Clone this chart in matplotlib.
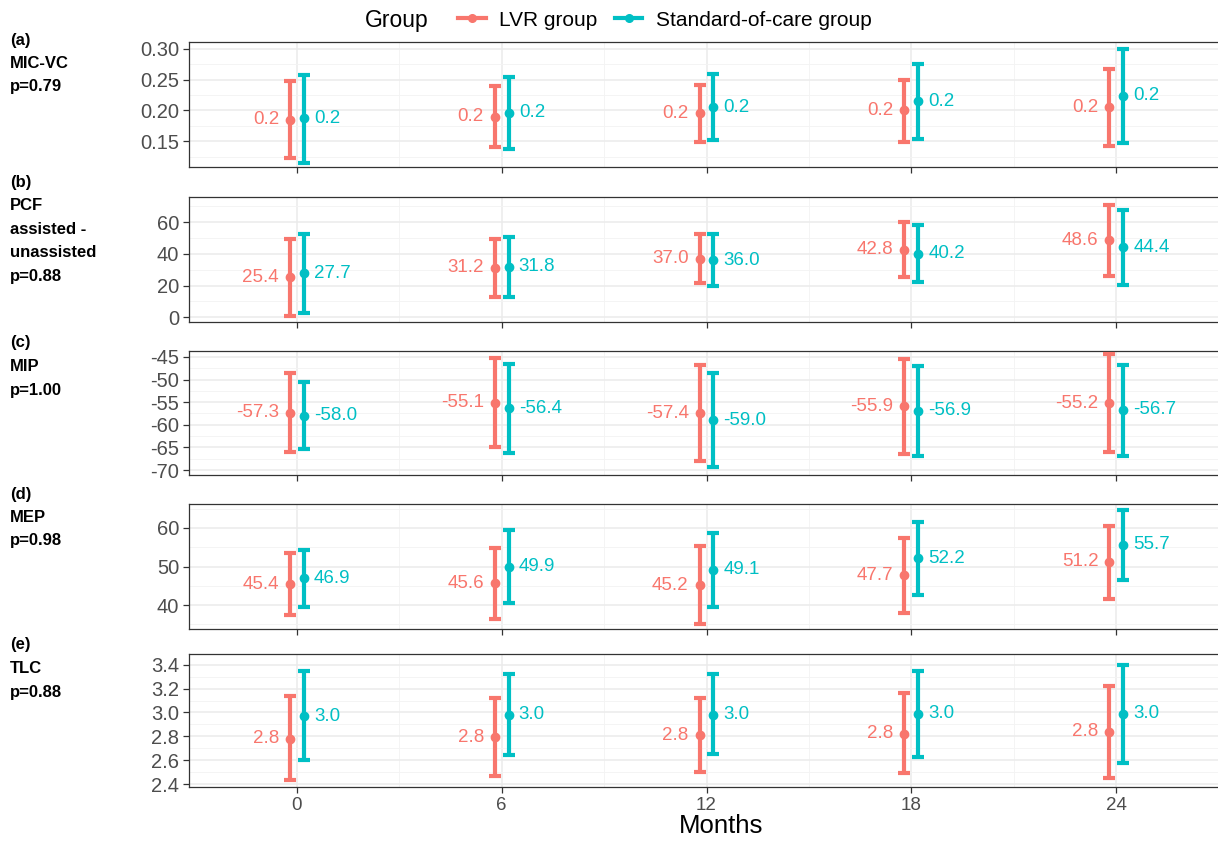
import numpy as np
import matplotlib
matplotlib.use("Agg")
import matplotlib.pyplot as plt
from matplotlib.lines import Line2D

plt.rcParams['font.family'] = ['Liberation Sans', 'DejaVu Sans']

months = [0, 6, 12, 18, 24]
groups = ['LVR group', 'Standard-of-care group']
colors = ['#F8766D', '#00BFC4']

# panel titles (left side)
panel_tags = ['(a)', '(b)', '(c)', '(d)', '(e)']
panel_names = ['MIC-VC', 'PCF\nassisted -\nunassisted', 'MIP', 'MEP', 'TLC']
panel_p = ['p=0.79', 'p=0.88', 'p=1.00', 'p=0.98', 'p=0.88']

# (a) MIC-VC
mic_lvr_mean = [0.185, 0.19, 0.195, 0.20, 0.205]
mic_lvr_lo = [0.123, 0.14, 0.149, 0.149, 0.142]
mic_lvr_hi = [0.247, 0.24, 0.241, 0.25, 0.267]
mic_soc_mean = [0.187, 0.196, 0.205, 0.215, 0.224]
mic_soc_lo = [0.115, 0.138, 0.152, 0.154, 0.147]
mic_soc_hi = [0.258, 0.254, 0.259, 0.276, 0.300]

# (b) PCF assisted - unassisted
pcf_lvr_mean = [25.4, 31.2, 37.0, 42.8, 48.6]
pcf_lvr_lo = [1.0, 13.0, 21.5, 25.5, 26.0]
pcf_lvr_hi = [49.5, 49.5, 52.5, 60.0, 71.0]
pcf_soc_mean = [27.7, 31.8, 36.0, 40.2, 44.4]
pcf_soc_lo = [3.0, 13.0, 19.5, 22.0, 20.5]
pcf_soc_hi = [52.5, 51.0, 52.5, 58.5, 68.0]

# (c) MIP
mip_lvr_mean = [-57.3, -55.1, -57.4, -55.9, -55.2]
mip_lvr_lo = [-66.0, -65.0, -68.0, -66.5, -66.0]
mip_lvr_hi = [-48.5, -45.2, -46.8, -45.5, -44.3]
mip_soc_mean = [-58.0, -56.4, -59.0, -56.9, -56.7]
mip_soc_lo = [-65.3, -66.3, -69.3, -66.8, -66.8]
mip_soc_hi = [-50.6, -46.5, -48.6, -47.0, -46.8]

# (d) MEP
mep_lvr_mean = [45.4, 45.6, 45.2, 47.7, 51.2]
mep_lvr_lo = [37.3, 36.4, 35.0, 38.0, 41.7]
mep_lvr_hi = [53.4, 54.9, 55.4, 57.4, 60.6]
mep_soc_mean = [46.9, 49.9, 49.1, 52.2, 55.7]
mep_soc_lo = [39.5, 40.5, 39.5, 42.7, 46.6]
mep_soc_hi = [54.3, 59.4, 58.7, 61.6, 64.7]

# (e) TLC
tlc_lvr_mean = [2.78, 2.79, 2.81, 2.82, 2.84]
tlc_lvr_lo = [2.43, 2.47, 2.50, 2.49, 2.45]
tlc_lvr_hi = [3.14, 3.12, 3.12, 3.16, 3.22]
tlc_soc_mean = [2.97, 2.98, 2.98, 2.99, 2.99]
tlc_soc_lo = [2.60, 2.64, 2.65, 2.63, 2.58]
tlc_soc_hi = [3.35, 3.32, 3.32, 3.35, 3.40]

panels = [
    ((mic_lvr_mean, mic_lvr_lo, mic_lvr_hi), (mic_soc_mean, mic_soc_lo, mic_soc_hi)),
    ((pcf_lvr_mean, pcf_lvr_lo, pcf_lvr_hi), (pcf_soc_mean, pcf_soc_lo, pcf_soc_hi)),
    ((mip_lvr_mean, mip_lvr_lo, mip_lvr_hi), (mip_soc_mean, mip_soc_lo, mip_soc_hi)),
    ((mep_lvr_mean, mep_lvr_lo, mep_lvr_hi), (mep_soc_mean, mep_soc_lo, mep_soc_hi)),
    ((tlc_lvr_mean, tlc_lvr_lo, tlc_lvr_hi), (tlc_soc_mean, tlc_soc_lo, tlc_soc_hi)),
]
yticks = [
    [0.15, 0.20, 0.25, 0.30],
    [0, 20, 40, 60],
    [-70, -65, -60, -55, -50, -45],
    [40, 50, 60],
    [2.4, 2.6, 2.8, 3.0, 3.2, 3.4],
]
ytick_fmt = ['{:.2f}', '{:.0f}', '{:.0f}', '{:.0f}', '{:.1f}']
ylims = [(0.108, 0.311), (-3.0, 76.0), (-71.1, -43.7), (33.8, 66.2), (2.375, 3.49)]
yminor = [
    [0.125, 0.175, 0.225, 0.275],
    [10, 30, 50, 70],
    [-67.5, -62.5, -57.5, -52.5, -47.5],
    [35, 45, 55, 65],
    [2.5, 2.7, 2.9, 3.1, 3.3],
]

W, H = 1218, 841
fig = plt.figure(figsize=(W / 100, H / 100), dpi=100)

# panel pixel boxes (top, bottom) and first line of the side titles
boxes = [(42, 167), (197, 322), (351, 475), (504, 629), (654, 787)]
title_y = [40, 182, 343, 494, 645]
left_px, right_px = 189, 1224
dodge = 0.2

for i, ((lvr, soc), (top, bot)) in enumerate(zip(panels, boxes)):
    ax = fig.add_axes([left_px / W, 1 - bot / H, (right_px - left_px) / W, (bot - top) / H])
    ax.set_xlim(-3.16, 27.16)
    ax.set_ylim(*ylims[i])
    ax.set_xticks(months)
    ax.set_xticks([3, 9, 15, 21], minor=True)
    ax.set_yticks(yticks[i])
    ax.set_yticks(yminor[i], minor=True)
    ax.set_yticklabels([ytick_fmt[i].format(v) for v in yticks[i]])
    ax.grid(True, which='major', color='#EBEBEB', linewidth=1.1, zorder=0)
    ax.grid(True, which='minor', color='#F3F3F3', linewidth=0.6, zorder=0)
    ax.set_axisbelow(True)
    for s in ax.spines.values():
        s.set_color('#333333')
        s.set_linewidth(0.9)
    ax.tick_params(axis='both', which='major', colors='#333333', labelcolor='#4D4D4D',
                   labelsize=14.5, length=4, width=0.9, pad=3)
    ax.tick_params(axis='both', which='minor', length=0)
    if i < 4:
        ax.tick_params(axis='x', labelbottom=False)
    else:
        ax.tick_params(axis='x', labelsize=13.5, pad=3)

    for g, (mean, lo, hi) in enumerate([lvr, soc]):
        x = np.array(months) + (-dodge if g == 0 else dodge)
        mean = np.array(mean)
        err = [mean - np.array(lo), np.array(hi) - mean]
        ax.errorbar(x, mean, yerr=err, fmt='o', color=colors[g], markersize=6,
                    elinewidth=3, capsize=4.5, capthick=3, zorder=3)
        for xi, m in zip(x, mean):
            label = '{:.1f}'.format(m)
            if g == 0:
                ax.text(xi - 0.32, m, label, color=colors[g], fontsize=13.5,
                        ha='right', va='center')
            else:
                ax.text(xi + 0.3, m, label, color=colors[g], fontsize=13.5,
                        ha='left', va='center')

    # left side titles
    lines = [panel_tags[i]] + panel_names[i].split('\n') + [panel_p[i]]
    for k, t in enumerate(lines):
        fig.text(10 / W, 1 - (title_y[i] + k * 23.5) / H, t, fontsize=12, fontweight='bold',
                 ha='left', va='center', color='black')

fig.text(721 / W, 1 - 826 / H, 'Months', fontsize=18.5, ha='center', va='center')

# legend at top
fig.text(365 / W, 1 - 20 / H, 'Group', fontsize=16.5, ha='left', va='center')
handles = [Line2D([0], [0], color=c, marker='o', markersize=5.5, linewidth=3) for c in colors]
fig.legend(handles, groups, loc='center left', bbox_to_anchor=(448 / W, 1 - 20 / H),
           ncol=2, frameon=False, fontsize=15, handlelength=1.3, borderpad=0,
           handletextpad=0.65, columnspacing=0.85)

fig.savefig('out.png', dpi=100)
